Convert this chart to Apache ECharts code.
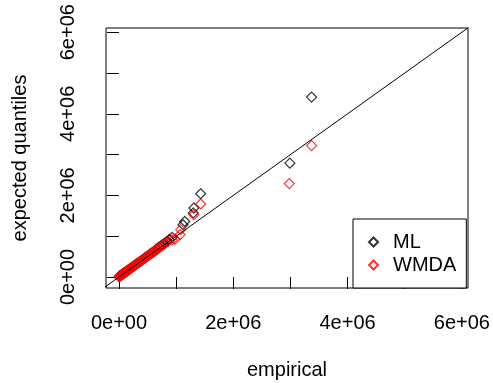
<!DOCTYPE html>
<html>
<head>
<meta charset="utf-8">
<script src="https://cdn.jsdelivr.net/npm/echarts@6/dist/echarts.min.js"></script>
<style>
  html, body { margin: 0; padding: 0; background: #fff; }
  #chart { width: 493px; height: 383px; }
</style>
</head>
<body>
<div id="chart"></div>
<script>
// values in units of 1e6
const mlX = [0.01, 0.03, 0.05, 0.07, 0.09, 0.11, 0.13, 0.15, 0.18, 0.21, 0.24, 0.27, 0.30, 0.34, 0.38, 0.42, 0.46, 0.50,
    0.54, 0.58, 0.62, 0.66, 0.70, 0.73, 0.77, 0.80, 0.84, 0.88, 0.93, 1.12, 1.15, 1.30, 1.31, 1.43, 2.99, 3.37];
const mlY = [0.02, 0.04, 0.06, 0.08, 0.10, 0.12, 0.14, 0.16, 0.19, 0.22, 0.25, 0.28, 0.31, 0.35, 0.39, 0.43, 0.48, 0.52,
    0.56, 0.60, 0.64, 0.69, 0.73, 0.76, 0.80, 0.83, 0.87, 0.92, 0.97, 1.28, 1.36, 1.57, 1.69, 2.04, 2.79, 4.41];
const wmdaX = [0.00, 0.01, 0.02, 0.03, 0.04, 0.05, 0.06, 0.07, 0.08, 0.09, 0.10, 0.11, 0.12, 0.13, 0.14, 0.15, 0.16,
    0.17, 0.18, 0.19, 0.21, 0.22, 0.24, 0.25, 0.27, 0.28, 0.30, 0.31, 0.33, 0.35, 0.36, 0.38, 0.40, 0.42, 0.44, 0.46,
    0.48, 0.50, 0.52, 0.54, 0.56, 0.58, 0.60, 0.62, 0.64, 0.66, 0.68, 0.72, 0.76, 0.80, 0.86, 0.93, 0.98, 1.07, 1.08,
    1.31, 1.43, 2.98, 3.37];
const wmdaY = [0.00, 0.02, 0.02, 0.04, 0.04, 0.06, 0.06, 0.08, 0.08, 0.10, 0.10, 0.12, 0.12, 0.14, 0.14, 0.16, 0.16,
    0.18, 0.18, 0.20, 0.22, 0.23, 0.25, 0.26, 0.28, 0.29, 0.31, 0.32, 0.34, 0.36, 0.37, 0.39, 0.41, 0.43, 0.45, 0.47,
    0.49, 0.51, 0.53, 0.55, 0.57, 0.59, 0.61, 0.63, 0.65, 0.67, 0.69, 0.73, 0.77, 0.81, 0.87, 0.91, 0.93, 1.04, 1.16,
    1.53, 1.79, 2.29, 3.22];
const refLine = [[-1, -1], [7, 7]];
const tickValues = [0, 1, 2, 3, 4, 5, 6];
const labelValues = [0, 2, 4, 6];
const tickLabels = ["0e+00", "2e+06", "4e+06", "6e+06"];

const font = "Liberation Sans, Arial, sans-serif";
const fmt = v => {
    let i = labelValues.indexOf(Math.round(v));
    return i >= 0 ? tickLabels[i] : "";
};
const zip = (xs, ys) => xs.map((x, i) => [x, ys[i]]);

let myChart = echarts.init(document.getElementById("chart"));
myChart.setOption({
    animation: false,
    textStyle: { fontFamily: font },
    grid: {
        left: 106,
        right: 25,
        top: 28,
        bottom: 95,
        show: true,
        borderColor: "#000",
        borderWidth: 1,
        outerBoundsMode: "none"
    },
    legend: {
        data: ["ML", "WMDA"],
        orient: "vertical",
        left: 353,
        top: 219,
        padding: [13, 10, 13, 15],
        itemWidth: 9,
        itemHeight: 9,
        itemGap: 3,
        borderColor: "#000",
        borderWidth: 1,
        backgroundColor: "#fff",
        textStyle: { fontSize: 20, color: "#000", fontFamily: font, lineHeight: 20, padding: [0, 0, 0, 10] }
    },
    xAxis: {
        type: "value",
        min: -0.227,
        max: 6.107,
        name: "empirical",
        nameLocation: "middle",
        nameGap: 72,
        nameTextStyle: { fontSize: 20, color: "#000" },
        axisLine: { show: false },
        splitLine: { show: false },
        axisTick: { show: true, length: 12, customValues: tickValues, lineStyle: { color: "#000" } },
        axisLabel: { customValues: labelValues, formatter: fmt, fontSize: 20, color: "#000", margin: 25 }
    },
    yAxis: {
        type: "value",
        min: -0.27,
        max: 6.103,
        name: "expected quantiles",
        nameLocation: "middle",
        nameGap: 76,
        nameTextStyle: { fontSize: 20, color: "#000" },
        axisLine: { show: false },
        splitLine: { show: false },
        axisTick: { show: true, length: 12, customValues: tickValues, lineStyle: { color: "#000" } },
        axisLabel: { customValues: labelValues, formatter: fmt, fontSize: 20, color: "#000", rotate: 90, margin: 28 }
    },
    series: [
        {
            name: "line",
            type: "line",
            data: refLine,
            symbol: "none",
            lineStyle: { color: "#000", width: 1 },
            clip: true,
            silent: true
        },
        {
            name: "ML",
            type: "scatter",
            data: zip(mlX, mlY),
            symbol: "diamond",
            symbolSize: 10,
            itemStyle: { color: "rgba(0,0,0,0)", borderColor: "#000", borderWidth: 1.2 }
        },
        {
            name: "WMDA",
            type: "scatter",
            data: zip(wmdaX, wmdaY),
            symbol: "diamond",
            symbolSize: 10,
            itemStyle: { color: "rgba(0,0,0,0)", borderColor: "#ff0000", borderWidth: 1.2 }
        }
    ]
});
</script>
</body>
</html>
